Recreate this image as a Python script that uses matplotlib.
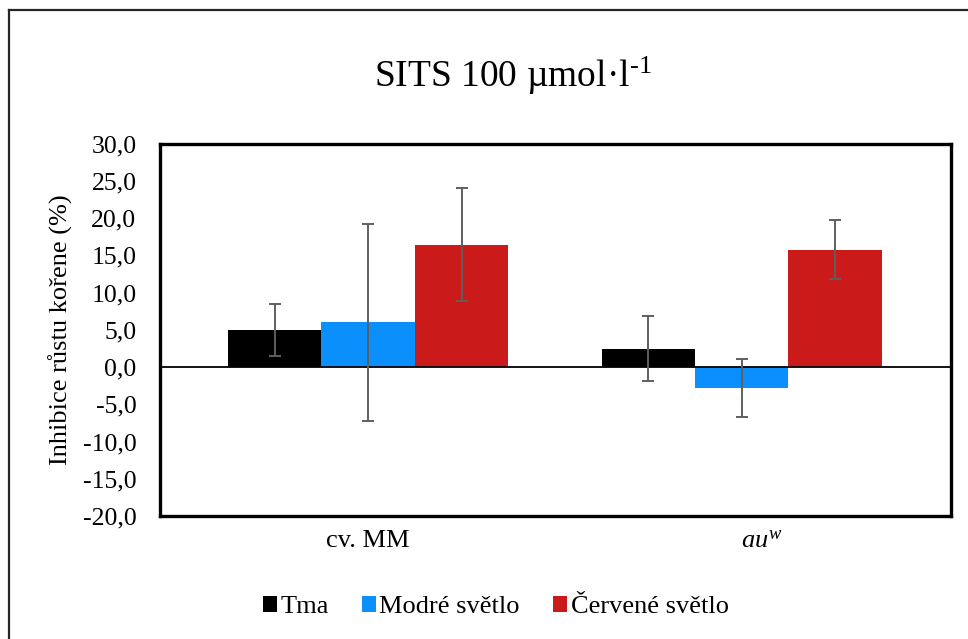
import matplotlib
matplotlib.use("Agg")
import matplotlib.pyplot as plt
import matplotlib.transforms as mtransforms
from matplotlib.lines import Line2D
from matplotlib.patches import Patch
from matplotlib.ticker import FuncFormatter
import numpy as np

plt.rcParams['font.family'] = ['Liberation Serif', 'DejaVu Serif']
plt.rcParams['mathtext.fontset'] = 'custom'
plt.rcParams['mathtext.rm'] = 'Liberation Serif'
plt.rcParams['mathtext.it'] = 'Liberation Serif:italic'

# Data
categories = ['cv. MM', r'$au^{w}$']
series_names = ['Tma', 'Modré světlo', 'Červené světlo']
tma = [4.97, 2.45]
tma_err = [3.5, 4.35]
modre = [6.0, -2.8]
modre_err = [13.2, 3.9]
cervene = [16.4, 15.75]
cervene_err = [7.6, 3.95]
yticks = [-20, -15, -10, -5, 0, 5, 10, 15, 20, 25, 30]

colors = ['#000000', '#0A8FFD', '#CB1A1A']
err_color = '#5F5F5F'

fig = plt.figure(figsize=(9.68, 6.39), dpi=100)
ax = fig.add_axes([160 / 968, 1 - 516 / 639, 791 / 968, 372.5 / 639])

x = np.arange(len(categories))
width = 0.25
values = [tma, modre, cervene]
errors = [tma_err, modre_err, cervene_err]
for i, (vals, col) in enumerate(zip(values, colors)):
    ax.bar(x + (i - 1) * width, vals, width, color=col, zorder=2)
for i, (vals, errs) in enumerate(zip(values, errors)):
    ax.errorbar(x + (i - 1) * width, vals, yerr=errs, fmt='none',
                ecolor=err_color, elinewidth=1.4, capsize=4.5,
                capthick=1.4, zorder=4)

ax.axhline(0, color='black', lw=1.3, zorder=3)

ax.set_xlim(-0.557, 1.56)
ax.set_ylim(-20, 30)
ax.set_yticks(yticks)
ax.yaxis.set_major_formatter(FuncFormatter(lambda v, p: f"{v:.1f}".replace('.', ',')))
ax.tick_params(axis='y', length=0, pad=17, labelsize=18.5)
ax.set_xticks([])
for s in ax.spines.values():
    s.set_linewidth(2.4)
    s.set_color('black')

# Category labels
trans = mtransforms.blended_transform_factory(ax.transData, ax.transAxes)
label_x = [0.0, 1.054]
for lx, lab in zip(label_x, categories):
    ax.text(lx, -0.083, lab, transform=trans, ha='center', va='baseline',
            fontsize=19)

ax.set_ylabel('Inhibice růstu kořene (%)', fontsize=19)
ax.yaxis.set_label_coords((73 - 160) / 791, 0.5)

fig.text(513 / 968, 1 - 87 / 639, r'SITS 100 µmol·l$^{\text{-}1}$', ha='center',
         va='baseline', fontsize=27)

handles = [Patch(facecolor=c, edgecolor='none') for c in colors]
fig.legend(handles, series_names, loc='center', bbox_to_anchor=(0.512, 0.05),
           ncol=3, frameon=False, fontsize=19, handlelength=0.55,
           handleheight=0.55, handletextpad=0.12, columnspacing=1.25)

# Chart area border
fig.add_artist(Line2D([9 / 968, 1.0], [1 - 10 / 639, 1 - 10 / 639],
                      transform=fig.transFigure, color='#262626', lw=1.6))
fig.add_artist(Line2D([9 / 968, 9 / 968], [0.0, 1 - 10 / 639],
                      transform=fig.transFigure, color='#262626', lw=1.6))

fig.savefig('out.png', dpi=100)
